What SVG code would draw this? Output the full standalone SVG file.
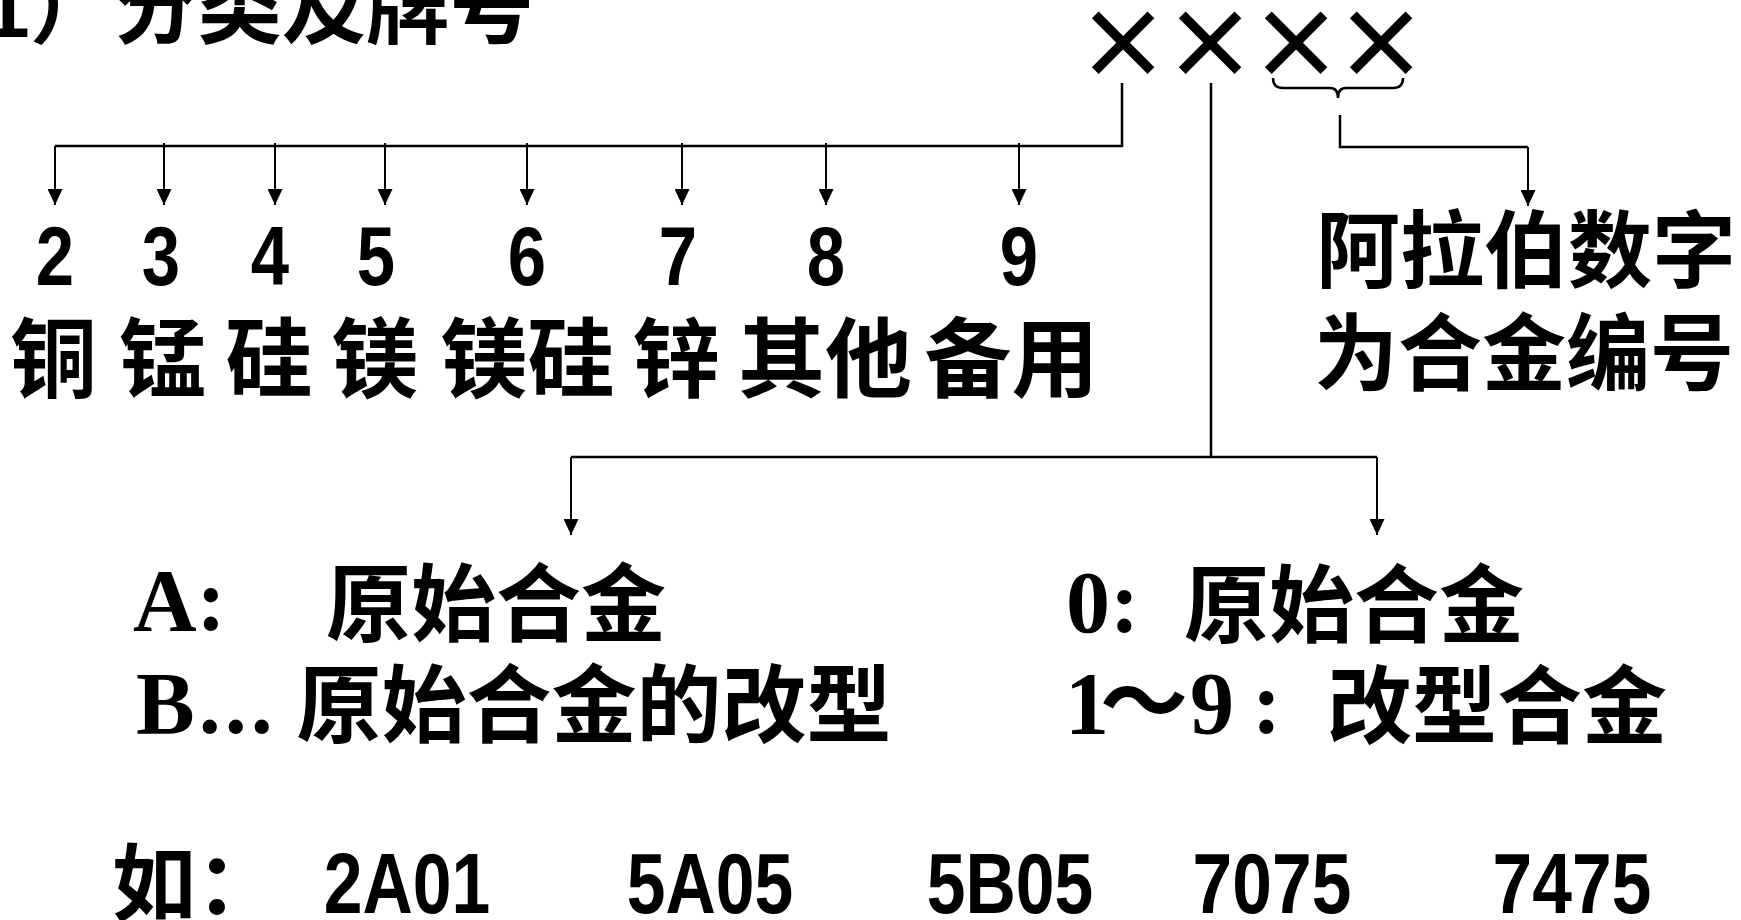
<svg xmlns="http://www.w3.org/2000/svg" width="1741" height="920" viewBox="0 0 1741 920">
<style>
.cjk{font-family:"Noto Sans CJK SC","Noto Sans CJK JP",sans-serif;font-weight:bold;fill:#000}
.dig{font-family:"Liberation Sans",Arial,sans-serif;font-weight:bold;fill:#000}
.ser{font-family:"Liberation Serif","Noto Sans CJK SC",serif;font-weight:bold;fill:#000}
.ln{stroke:#000;stroke-width:2.5;fill:none}
.ar{stroke:#000;stroke-width:2;fill:none;marker-end:url(#ah)}
.mix{font-family:"Liberation Sans","Noto Sans CJK SC",sans-serif;font-weight:bold;fill:#000}
</style>
<defs>
<marker id="ah" markerUnits="userSpaceOnUse" markerWidth="16" markerHeight="15" refX="16" refY="7.5" orient="auto">
<path d="M0,0 L16,7.5 L0,15 z" fill="#000"/>
</marker>
</defs>
<rect width="1741" height="920" fill="#fff"/>
<g id="title"><text class="mix" x="-17" y="37" font-size="84">1）分类及牌号</text></g>
<g id="code" class="cjk" font-size="95" text-anchor="middle">
<text x="1123" y="79">×</text>
<text x="1210" y="79">×</text>
<text x="1296" y="79">×</text>
<text x="1381" y="79">×</text>
</g>
<g id="connectors">
<path class="ln" d="M1122,83 V146 H55"/>
<path class="ar" d="M55,146 V205"/>
<path class="ar" d="M164,143 V205"/>
<path class="ar" d="M275,143 V205"/>
<path class="ar" d="M385,143 V205"/>
<path class="ar" d="M527,143 V205"/>
<path class="ar" d="M682,143 V205"/>
<path class="ar" d="M826,143 V205"/>
<path class="ar" d="M1019,143 V205"/>
<path class="ln" d="M1211,83 V457"/>
<path class="ln" stroke-width="3" d="M571,457 H1377"/>
<path class="ar" d="M571,457 V535"/>
<path class="ar" d="M1377,457 V535"/>
<path class="ln" stroke-width="4" d="M1273,78 Q1273,88 1283,88 H1330 Q1338,88 1338,98 Q1338,88 1346,88 H1393 Q1403,88 1403,78"/>
<path class="ln" d="M1340,115 V147 H1528"/>
<path class="ar" d="M1528,147 V206"/>
</g>
<g id="digits" class="dig" font-size="84" text-anchor="middle">
<text transform="translate(55,285) scale(0.82,1)">2</text>
<text transform="translate(161,285) scale(0.82,1)">3</text>
<text transform="translate(270,285) scale(0.82,1)">4</text>
<text transform="translate(376,285) scale(0.82,1)">5</text>
<text transform="translate(527,285) scale(0.82,1)">6</text>
<text transform="translate(678,285) scale(0.82,1)">7</text>
<text transform="translate(826,285) scale(0.82,1)">8</text>
<text transform="translate(1019,285) scale(0.82,1)">9</text>
</g>
<g id="elements" class="cjk" font-size="87" text-anchor="middle">
<text x="53.5" y="391">铜</text>
<text x="162.5" y="391">锰</text>
<text x="269" y="391">硅</text>
<text x="375" y="391">镁</text>
<text x="527.5" y="391">镁硅</text>
<text x="676" y="391">锌</text>
<text x="825" y="391">其他</text>
<text x="1011.5" y="391">备用</text>
</g>
<g id="arabic" class="cjk" font-size="84" text-anchor="middle">
<text x="1526" y="281">阿拉伯数字</text>
<text x="1524" y="384">为合金编号</text>
</g>
<g id="letters">
<text class="ser" x="133" y="630" font-size="88">A:</text>
<text class="cjk" x="496" y="635" font-size="85" text-anchor="middle">原始合金</text>
<text class="ser" x="136" y="733" font-size="88" letter-spacing="4">B...</text>
<text class="cjk" x="594" y="736" font-size="85" text-anchor="middle">原始合金的改型</text>
</g>
<g id="numbers">
<text class="ser" x="1066" y="632" font-size="88">0:</text>
<text class="cjk" x="1354" y="636" font-size="85" text-anchor="middle">原始合金</text>
<text class="ser" y="733" font-size="88"><tspan x="1065">1</tspan><tspan x="1100">～</tspan><tspan x="1190">9</tspan><tspan x="1252">:</tspan></text>
<text class="cjk" x="1497" y="737" font-size="85" text-anchor="middle">改型合金</text>
</g>
<g id="examples">
<text class="cjk" x="112" y="914" font-size="84">如：</text>
<g class="dig" font-size="85" text-anchor="middle">
<text transform="translate(407,913) scale(0.82,1)">2A01</text>
<text transform="translate(710,913) scale(0.82,1)">5A05</text>
<text transform="translate(1010,913) scale(0.82,1)">5B05</text>
<text transform="translate(1272,913) scale(0.84,1)">7075</text>
<text transform="translate(1572,913) scale(0.84,1)">7475</text>
</g>
</g>
</svg>
